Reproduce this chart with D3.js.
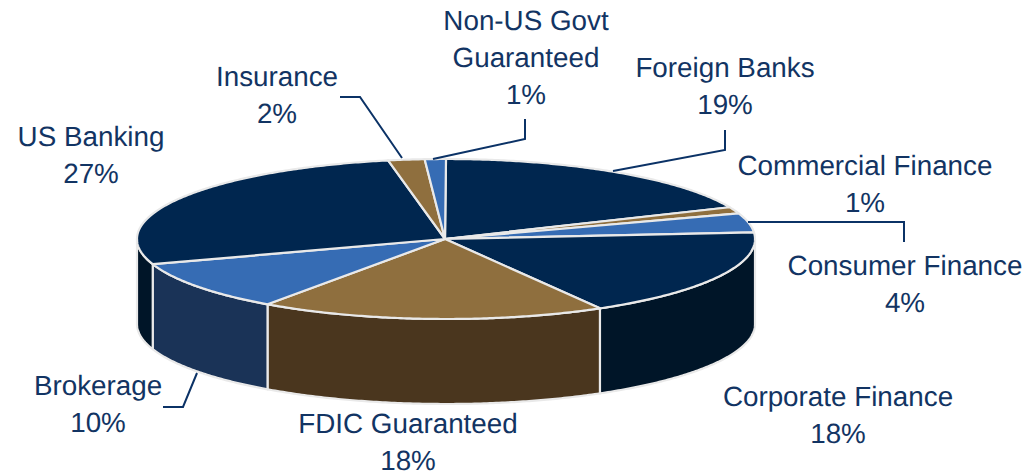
<!DOCTYPE html>
<html><head><meta charset="utf-8">
<script src="https://cdn.jsdelivr.net/npm/d3@7/dist/d3.min.js"></script>
<style>html,body{margin:0;padding:0;background:#fff}svg{display:block}text{font-family:"Liberation Sans",Arial,sans-serif;font-size:27.8px;fill:#123463;text-anchor:middle;text-rendering:geometricPrecision}</style>
</head><body><svg id="c" width="1030" height="474"></svg>
<script>
const categories = ["Foreign Banks","Commercial Finance","Consumer Finance","Corporate Finance","FDIC Guaranteed","Brokerage","US Banking","Insurance","Non-US Govt Guaranteed"];
const values = [18.5,1.3,3.9,18.0,18.1,10.1,27.1,1.9,1.1];
const topColors = ["#00264f","#8f6f3e","#366cb4","#00264f","#8f6f3e","#366cb4","#00264f","#8f6f3e","#366cb4"];
const sideColors = ["#001528","#4a361e","#1a3357","#001528","#4a361e","#1a3357","#001528","#4a361e","#1a3357"];
const nameLines = [["Foreign Banks"],["Commercial Finance"],["Consumer Finance"],["Corporate Finance"],["FDIC Guaranteed"],["Brokerage"],["US Banking"],["Insurance"],["Non-US Govt","Guaranteed"]];
const labelPos = [[725,76.5],[865,175],[905,275],[838,405.5],[408,433],[98,395],[91,145.5],[277,86],[526,30]];
const leaders = [[[725,130],[725,150],[613,171]],null,[[748,222],[904,222],[904,242]],null,null,[[163,407],[183,407],[197,373]],null,[[340,97],[360,97],[402,158]],[[525,119],[525,139],[433,159]]];

const cx=446, cy=239, rx=309, ry=80, depth=85, lh=37, apexX=445;
const svg=d3.select("#c");
const arcs=d3.pie().sort(null).startAngle(0).endAngle(2*Math.PI)(values);
const px=a=>cx+rx*Math.sin(a), py=a=>cy-ry*Math.cos(a);
const line=d3.line();
const rim=(a0,a1,dy=0)=>{const n=Math.max(2,Math.ceil((a1-a0)/0.01));return d3.range(n+1).map(i=>{const a=a0+(a1-a0)*i/n;return [px(a),py(a)+dy];});};
const stroke="#e9e9e9";

// side walls, front half only
const g=svg.append("g");
arcs.forEach((d,i)=>{
  const a0=Math.max(d.startAngle,Math.PI/2), a1=Math.min(d.endAngle,3*Math.PI/2);
  if(a1<=a0) return;
  const p=rim(a0,a1).concat(rim(a0,a1,depth).reverse());
  g.append("path").attr("d",line(p)+"Z").attr("fill",sideColors[i]).attr("stroke",stroke).attr("stroke-width",2.2).attr("stroke-linejoin","round");
});
// top faces
arcs.forEach((d,i)=>{
  const p=[[apexX,cy]].concat(rim(d.startAngle,d.endAngle));
  g.append("path").attr("d",line(p)+"Z").attr("fill",topColors[i]).attr("stroke",stroke).attr("stroke-width",2.2).attr("stroke-linejoin","round");
});
// leader lines
leaders.forEach(l=>{ if(l) svg.append("path").attr("d",line(l)).attr("fill","none").attr("stroke","#0b3266").attr("stroke-width",2); });
// labels: name lines followed by the rounded share
nameLines.forEach((ls,i)=>{
  ls.concat(Math.round(values[i])+"%").forEach((t,j)=>svg.append("text").attr("x",labelPos[i][0]).attr("y",labelPos[i][1]+j*lh).text(t));
});
</script></body></html>
